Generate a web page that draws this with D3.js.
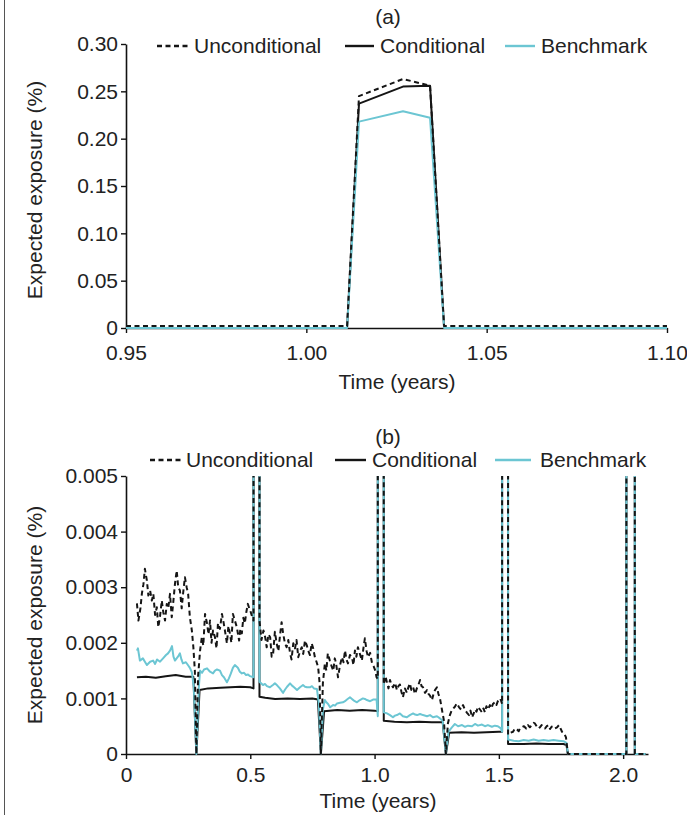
<!DOCTYPE html>
<html>
<head>
<meta charset="utf-8">
<script src="https://cdn.jsdelivr.net/npm/d3@7"></script>
<style>
  body { margin: 0; background: #fff; }
  svg { display: block; font-family: "Liberation Sans", Arial, sans-serif; }
</style>
</head>
<body>
<div id="chart"></div>
<script>
// ---- data ----
const seriesNames = ['Unconditional', 'Conditional', 'Benchmark'];

// panel (a): close-up around t = 1 year
const timeA = [0.95, 1.0113, 1.0146, 1.0268, 1.0343, 1.0382, 1.10];
const uncondA = [0.002, 0.002, 0.245, 0.263, 0.256, 0.002, 0.002];
const condA = [0, 0, 0.237, 0.255, 0.256, 0, 0];
const benchA = [0, 0, 0.218, 0.229, 0.222, 0, 0];
const xTicksA = [0.95, 1.00, 1.05, 1.10];
const yTicksA = [0, 0.05, 0.10, 0.15, 0.20, 0.25, 0.30];

// panel (b): whole horizon, [time, exposure]; spikes go off the top (0.25)
const uncondB = [
  [0.044,0.00271],[0.050,0.00240],[0.058,0.00262],[0.064,0.00289],[0.070,0.00305],[0.076,0.00333],[0.084,0.00312],[0.090,0.00285],
  [0.097,0.00294],[0.104,0.00276],[0.110,0.00288],[0.117,0.00250],[0.124,0.00264],[0.130,0.00228],[0.137,0.00248],[0.144,0.00276],
  [0.150,0.00255],[0.157,0.00240],[0.164,0.00270],[0.170,0.00262],[0.177,0.00288],[0.184,0.00246],[0.190,0.00272],[0.197,0.00306],
  [0.204,0.00330],[0.210,0.00300],[0.217,0.00294],[0.224,0.00262],[0.230,0.00290],[0.237,0.00318],[0.244,0.00300],[0.250,0.00288],
  [0.257,0.00246],[0.265,0.00222],[0.271,0.00192],[0.277,0.00150],
  [0.283,0],
  [0.290,0.00140],[0.298,0.00186],[0.305,0.00210],[0.311,0.00195],[0.318,0.00252],[0.326,0.00235],[0.332,0.00215],[0.338,0.00240],
  [0.344,0.00200],[0.350,0.00222],[0.358,0.00210],[0.364,0.00190],[0.370,0.00235],[0.378,0.00225],[0.386,0.00252],[0.392,0.00238],
  [0.398,0.00222],[0.406,0.00199],[0.412,0.00230],[0.418,0.00217],[0.424,0.00200],[0.430,0.00252],[0.438,0.00240],[0.446,0.00228],
  [0.455,0.00204],[0.460,0.00225],[0.466,0.00217],[0.472,0.00245],[0.478,0.00235],[0.484,0.00255],[0.490,0.00270],[0.496,0.00262],
  [0.502,0.00255],[0.508,0.00246],[0.513,0.00240],
  [0.515,0.25],[0.535,0.25],
  [0.537,0.00240],[0.545,0.00205],[0.553,0.00222],[0.560,0.00210],[0.566,0.00192],[0.573,0.00215],[0.580,0.00210],[0.586,0.00175],
  [0.592,0.00181],[0.599,0.00220],[0.606,0.00199],[0.613,0.00185],[0.620,0.00215],[0.626,0.00237],[0.632,0.00217],[0.639,0.00200],
  [0.646,0.00192],[0.653,0.00205],[0.660,0.00181],[0.666,0.00170],[0.673,0.00199],[0.680,0.00190],[0.686,0.00205],[0.693,0.00174],
  [0.700,0.00185],[0.707,0.00192],[0.713,0.00180],[0.720,0.00204],[0.727,0.00196],[0.733,0.00186],[0.740,0.00178],[0.747,0.00199],
  [0.753,0.00190],[0.760,0.00174],[0.767,0.00165],[0.773,0.00156],[0.779,0.00127],
  [0.784,0],
  [0.792,0.00127],[0.800,0.00163],[0.806,0.00150],[0.812,0.00181],[0.820,0.00168],[0.827,0.00158],[0.834,0.00150],[0.840,0.00172],
  [0.845,0.00163],[0.853,0.00138],[0.861,0.00160],[0.869,0.00174],[0.875,0.00165],[0.881,0.00186],[0.887,0.00170],[0.893,0.00163],
  [0.901,0.00178],[0.909,0.00174],[0.915,0.00160],[0.921,0.00186],[0.927,0.00175],[0.933,0.00192],[0.941,0.00180],[0.949,0.00168],
  [0.955,0.00190],[0.961,0.00208],[0.968,0.00185],[0.974,0.00174],[0.982,0.00182],[0.990,0.00163],[0.996,0.00158],[1.003,0.00150],
  [1.008,0.00138],[1.013,0.00135],
  [1.015,0.25],[1.035,0.25],
  [1.037,0.00125],[1.044,0.00140],[1.050,0.00128],[1.056,0.00118],[1.062,0.00133],[1.068,0.00125],[1.074,0.00120],[1.082,0.00128],
  [1.090,0.00115],[1.096,0.00122],[1.102,0.00125],[1.108,0.00112],[1.114,0.00102],[1.122,0.00118],[1.130,0.00110],[1.136,0.00120],
  [1.142,0.00127],[1.148,0.00115],[1.155,0.00120],[1.163,0.00108],[1.170,0.00118],[1.177,0.00125],[1.183,0.00133],[1.189,0.00122],
  [1.195,0.00120],[1.203,0.00110],[1.211,0.00115],[1.217,0.00108],[1.223,0.00105],[1.231,0.00097],[1.237,0.00108],[1.243,0.00115],
  [1.251,0.00120],[1.257,0.00108],[1.263,0.00100],[1.271,0.00080],[1.279,0.00060],
  [1.287,0],
  [1.295,0.00055],[1.303,0.00070],[1.311,0.00079],[1.317,0.00082],[1.323,0.00085],[1.331,0.00091],[1.340,0.00084],[1.348,0.00080],
  [1.356,0.00088],[1.364,0.00079],[1.372,0.00074],[1.380,0.00070],[1.386,0.00078],[1.392,0.00066],[1.398,0.00072],[1.404,0.00080],
  [1.410,0.00076],[1.416,0.00085],[1.424,0.00080],[1.432,0.00075],[1.438,0.00082],[1.444,0.00075],[1.450,0.00086],[1.456,0.00080],
  [1.464,0.00088],[1.470,0.00082],[1.476,0.00090],[1.484,0.00093],[1.490,0.00088],[1.496,0.00095],[1.504,0.00100],[1.509,0.00096],
  [1.513,0.00090],
  [1.515,0.25],[1.535,0.25],
  [1.537,0.00035],[1.545,0.00038],[1.557,0.00040],[1.565,0.00046],[1.573,0.00044],[1.580,0.00041],[1.585,0.00046],[1.593,0.00048],
  [1.601,0.00050],[1.610,0.00046],[1.617,0.00052],[1.625,0.00048],[1.633,0.00053],[1.640,0.00056],[1.645,0.00055],[1.652,0.00050],
  [1.658,0.00046],[1.665,0.00048],[1.672,0.00052],[1.679,0.00047],[1.686,0.00046],[1.693,0.00050],[1.700,0.00052],[1.706,0.00045],
  [1.712,0.00049],[1.718,0.00050],[1.726,0.00046],[1.734,0.00048],[1.742,0.00052],[1.748,0.00046],[1.754,0.00040],[1.762,0.00038],
  [1.770,0.00030],
  [1.778,0],[2.013,0],[2.016,0.25],[2.044,0.25],[2.047,0],[2.090,0]
];

const condB = [
  [0.044,0.00138],[0.080,0.00139],[0.120,0.00137],[0.160,0.00140],[0.200,0.00142],[0.240,0.00139],[0.271,0.00139],
  [0.283,0],
  [0.296,0.00115],[0.330,0.00118],[0.380,0.00119],[0.420,0.00120],[0.460,0.00121],[0.500,0.00120],[0.513,0.00118],
  [0.515,0.25],[0.535,0.25],
  [0.537,0.00103],[0.560,0.00101],[0.600,0.00099],[0.650,0.00100],[0.700,0.00099],[0.750,0.00100],[0.772,0.00098],
  [0.784,0],
  [0.797,0.00077],[0.850,0.00079],[0.900,0.00078],[0.950,0.00079],[1.000,0.00078],[1.013,0.00077],
  [1.015,0.25],[1.035,0.25],
  [1.037,0.00060],[1.080,0.00058],[1.130,0.00057],[1.180,0.00058],[1.230,0.00057],[1.274,0.00057],
  [1.287,0],
  [1.300,0.00038],[1.350,0.00039],[1.400,0.00038],[1.450,0.00039],[1.500,0.00040],[1.513,0.00040],
  [1.515,0.25],[1.535,0.25],
  [1.537,0.00018],[1.600,0.00018],[1.650,0.00019],[1.700,0.00018],[1.760,0.00018],[1.772,0.00016],
  [1.778,0],[2.013,0],[2.016,0.25],[2.044,0.25],[2.047,0],[2.090,0]
];

const benchB = [
  [0.044,0.00186],[0.048,0.00190],[0.056,0.00168],[0.068,0.00172],[0.076,0.00166],[0.084,0.00160],[0.097,0.00166],[0.109,0.00168],
  [0.117,0.00162],[0.125,0.00170],[0.137,0.00166],[0.149,0.00172],[0.161,0.00178],[0.169,0.00181],[0.177,0.00186],[0.185,0.00194],
  [0.191,0.00175],[0.197,0.00168],[0.209,0.00175],[0.217,0.00181],[0.223,0.00170],[0.229,0.00163],[0.241,0.00165],[0.249,0.00160],
  [0.257,0.00155],[0.265,0.00147],[0.273,0.00120],
  [0.283,0],
  [0.293,0.00120],[0.298,0.00150],[0.306,0.00146],[0.314,0.00152],[0.326,0.00154],[0.338,0.00148],[0.350,0.00145],[0.358,0.00150],
  [0.366,0.00152],[0.378,0.00150],[0.386,0.00142],[0.394,0.00138],[0.406,0.00129],[0.414,0.00136],[0.422,0.00145],[0.430,0.00155],
  [0.438,0.00160],[0.450,0.00155],[0.458,0.00148],[0.466,0.00145],[0.475,0.00146],[0.483,0.00142],[0.491,0.00143],[0.499,0.00140],
  [0.513,0.00138],
  [0.515,0.25],[0.535,0.25],
  [0.537,0.00130],[0.551,0.00124],[0.559,0.00126],[0.567,0.00122],[0.579,0.00120],[0.591,0.00124],[0.599,0.00127],[0.607,0.00124],
  [0.619,0.00118],[0.632,0.00110],[0.640,0.00116],[0.648,0.00121],[0.660,0.00127],[0.668,0.00123],[0.676,0.00120],[0.688,0.00115],
  [0.700,0.00120],[0.712,0.00124],[0.720,0.00121],[0.728,0.00120],[0.740,0.00120],[0.748,0.00122],[0.756,0.00118],[0.768,0.00117],
  [0.776,0.00090],
  [0.784,0],
  [0.792,0.00080],[0.800,0.00097],[0.806,0.00093],[0.813,0.00090],[0.821,0.00084],[0.827,0.00086],[0.833,0.00088],[0.841,0.00087],
  [0.849,0.00091],[0.861,0.00092],[0.873,0.00093],[0.881,0.00095],[0.889,0.00098],[0.901,0.00102],[0.909,0.00099],[0.917,0.00096],
  [0.929,0.00093],[0.941,0.00097],[0.953,0.00100],[0.961,0.00099],[0.969,0.00097],[0.982,0.00095],[0.994,0.00098],[1.008,0.00098],
  [1.013,0.00068],
  [1.015,0.25],[1.035,0.25],
  [1.037,0.00075],[1.050,0.00073],[1.062,0.00070],[1.074,0.00066],[1.082,0.00069],[1.090,0.00070],[1.102,0.00073],[1.114,0.00068],
  [1.130,0.00066],[1.142,0.00070],[1.155,0.00073],[1.163,0.00071],[1.171,0.00070],[1.183,0.00072],[1.195,0.00070],[1.211,0.00068],
  [1.223,0.00070],[1.235,0.00066],[1.251,0.00068],[1.263,0.00064],[1.274,0.00060],
  [1.287,0],
  [1.297,0.00040],[1.311,0.00048],[1.323,0.00054],[1.336,0.00050],[1.352,0.00052],[1.364,0.00049],[1.376,0.00051],[1.392,0.00050],
  [1.404,0.00054],[1.416,0.00051],[1.432,0.00053],[1.444,0.00050],[1.456,0.00052],[1.472,0.00049],[1.484,0.00051],[1.496,0.00050],
  [1.508,0.00046],[1.513,0.00040],
  [1.515,0.25],[1.535,0.25],
  [1.537,0.00026],[1.560,0.00024],[1.580,0.00023],[1.600,0.00025],[1.620,0.00024],[1.640,0.00026],[1.660,0.00024],[1.680,0.00025],
  [1.700,0.00024],[1.720,0.00025],[1.740,0.00024],[1.760,0.00023],[1.772,0.00020],
  [1.778,0],[2.013,0],[2.016,0.25],[2.044,0.25],[2.047,0],[2.090,0]
];
const xTicksB = [0, 0.5, 1.0, 1.5, 2.0];
const yTicksB = [0, 0.001, 0.002, 0.003, 0.004, 0.005];

// ---- drawing ----
const width = 687, height = 815;
const BLACK = '#151515', CYAN = '#6cc6d3';
const styles = {
  Unconditional: { color: BLACK, dash: '5,3.5' },
  Conditional: { color: BLACK, dash: null },
  Benchmark: { color: CYAN, dash: null }
};

const svg = d3.select('#chart')
  .append('svg')
    .attr('width', width)
    .attr('height', height);

// thin frame line at the left edge
svg.append('line')
  .attr('x1', 4.5).attr('x2', 4.5)
  .attr('y1', 0).attr('y2', height)
  .attr('stroke', '#555')
  .attr('stroke-width', 1);

function drawPanel(p) {
  const x = d3.scaleLinear().domain(p.xDomain).range([p.left, p.right]);
  const y = d3.scaleLinear().domain(p.yDomain).range([p.bottom, p.top]);

  const clipId = 'clip-' + p.id;
  svg.append('clipPath').attr('id', clipId)
    .append('rect')
      .attr('x', p.left - 2).attr('y', p.top)
      .attr('width', p.right - p.left + 6).attr('height', p.bottom - p.top + 2);

  // title
  svg.append('text')
    .attr('x', p.titleX).attr('y', p.titleY)
    .attr('text-anchor', 'middle')
    .attr('font-size', 21)
    .attr('fill', '#222')
    .text(p.title);

  // axes
  const yAxis = svg.append('g')
    .attr('transform', `translate(${p.left},0)`)
    .call(d3.axisLeft(y).tickValues(p.yTicks).tickSize(5).tickPadding(3).tickSizeOuter(0)
      .tickFormat(d => d === 0 ? '0' : d3.format(p.yFormat)(d)));

  const xAxis = svg.append('g')
    .attr('transform', `translate(0,${p.bottom})`)
    .call(d3.axisBottom(x).tickValues(p.xTicks).tickSize(5).tickPadding(p.xPad).tickSizeOuter(0)
      .tickFormat(d => d === 0 ? '0' : d3.format(p.xFormat)(d)));

  [xAxis, yAxis].forEach(a => {
    a.select('.domain').attr('stroke', '#111').attr('stroke-width', 1.6);
    a.selectAll('.tick line').attr('stroke', '#111').attr('stroke-width', 1.4);
    a.selectAll('.tick text')
      .attr('font-size', 21)
      .attr('font-family', '"Liberation Sans", Arial, sans-serif')
      .attr('fill', '#222');
  });

  // axis titles
  svg.append('text')
    .attr('transform', `translate(${p.yTitleX},${p.yTitleY}) rotate(-90)`)
    .attr('text-anchor', 'middle')
    .attr('font-size', 21)
    .attr('fill', '#222')
    .text('Expected exposure (%)');

  svg.append('text')
    .attr('x', p.xTitleX).attr('y', p.xTitleY)
    .attr('text-anchor', 'middle')
    .attr('font-size', 21)
    .attr('fill', '#222')
    .text('Time (years)');

  // lines
  const line = d3.line()
    .x(d => x(d[0]))
    .y(d => y(d[1]));

  const plot = svg.append('g').attr('clip-path', `url(#${clipId})`);
  ['Conditional', 'Benchmark', 'Unconditional'].forEach(name => {
    plot.append('path')
      .datum(p.series[name])
      .attr('fill', 'none')
      .attr('stroke', styles[name].color)
      .attr('stroke-width', 2)
      .attr('stroke-linejoin', 'round')
      .attr('stroke-dasharray', styles[name].dash)
      .attr('d', line);
  });

  // legend
  const legend = svg.append('g');
  seriesNames.forEach((name, i) => {
    const it = p.legend[i];
    legend.append('line')
      .attr('x1', it[0]).attr('x2', it[1])
      .attr('y1', p.legendY).attr('y2', p.legendY)
      .attr('stroke', styles[name].color)
      .attr('stroke-width', 2.4)
      .attr('stroke-dasharray', styles[name].dash);
    legend.append('text')
      .attr('x', it[2]).attr('y', p.legendY + 7)
      .attr('font-size', 21)
      .attr('fill', '#222')
      .text(name);
  });
}

const pairs = (ts, vs) => ts.map((t, i) => [t, vs[i]]);

drawPanel({
  id: 'a', title: '(a)', titleX: 388, titleY: 24,
  left: 126, right: 667, top: 44, bottom: 328,
  xDomain: [0.95, 1.10], yDomain: [0, 0.30],
  xTicks: xTicksA, yTicks: yTicksA, xFormat: '.2f', yFormat: '.2f', xPad: 12,
  yTitleX: 42, yTitleY: 190, xTitleX: 397, xTitleY: 389,
  legendY: 46,
  legend: [[157, 189, 194], [345, 374, 380], [505, 535, 541]],
  series: {
    Unconditional: pairs(timeA, uncondA),
    Conditional: pairs(timeA, condA),
    Benchmark: pairs(timeA, benchA)
  }
});

drawPanel({
  id: 'b', title: '(b)', titleX: 388, titleY: 444,
  left: 126, right: 648, top: 476, bottom: 754,
  xDomain: [0, 2.1], yDomain: [0, 0.005],
  xTicks: xTicksB, yTicks: yTicksB, xFormat: '.1f', yFormat: '.3f', xPad: 8,
  yTitleX: 42, yTitleY: 615, xTitleX: 378, xTitleY: 808,
  legendY: 460,
  legend: [[150, 181, 186], [335, 366, 372], [495, 531, 540]],
  series: {
    Unconditional: uncondB,
    Conditional: condB,
    Benchmark: benchB
  }
});
</script>
</body>
</html>
